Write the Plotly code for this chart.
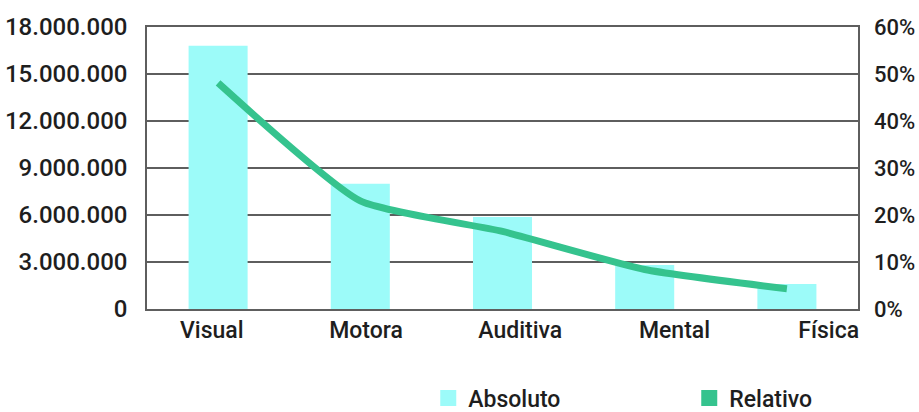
import plotly.graph_objects as go

# Tipos de deficiência
categorias = ["Visual", "Motora", "Auditiva", "Mental", "Física"]
# Número absoluto de pessoas
absoluto = [16_800_000, 8_000_000, 5_870_000, 2_810_000, 1_600_000]
# Participação relativa (%)
relativo = [48.1, 23.0, 16.5, 8.4, 4.3]

left_ticks = [0, 3_000_000, 6_000_000, 9_000_000, 12_000_000, 15_000_000, 18_000_000]
right_ticks = [0, 10, 20, 30, 40, 50, 60]
right_labels = [f"{v}%" for v in right_ticks]

COR_BARRA = "#9cfbf9"
COR_LINHA = "#35c38e"
COR_GRADE = "#5e5e5e"
COR_TEXTO = "#1e1e1e"
FONTE = "Roboto"

fig = go.Figure()

fig.add_trace(go.Bar(
    x=categorias, y=absoluto, width=0.415,
    marker=dict(color=COR_BARRA, line=dict(width=0)),
    showlegend=False, xaxis="x", yaxis="y",
))

fig.add_trace(go.Scatter(
    x=categorias, y=relativo, mode="lines",
    line=dict(color=COR_LINHA, width=7, shape="spline", smoothing=0.5),
    showlegend=False, xaxis="x", yaxis="y2",
))

# category labels on their own axis
fig.add_trace(go.Scatter(
    x=categorias, y=absoluto, mode="markers",
    marker=dict(opacity=0), hoverinfo="skip",
    showlegend=False, xaxis="x2", yaxis="y",
))

# legend entries with square swatches, one legend each
fig.add_trace(go.Scatter(
    x=[None], y=[None], mode="markers", name="Absoluto",
    marker=dict(symbol="square", size=16, color=COR_BARRA),
    xaxis="x", yaxis="y", legend="legend",
))
fig.add_trace(go.Scatter(
    x=[None], y=[None], mode="markers", name="Relativo",
    marker=dict(symbol="square", size=16, color=COR_LINHA),
    xaxis="x", yaxis="y", legend="legend2",
))

legend_common = dict(
    xref="container", yref="container", xanchor="left", yanchor="middle",
    font=dict(size=23, color=COR_TEXTO, weight=500),
    bgcolor="rgba(0,0,0,0)",
)

fig.update_layout(
    width=919, height=412,
    margin=dict(l=147, r=61, t=27, b=103, autoexpand=False),
    paper_bgcolor="white", plot_bgcolor="white",
    separators=",.",
    font=dict(family=FONTE, color=COR_TEXTO, weight=500),
    xaxis=dict(
        type="category", range=[-0.5, 4.5], automargin=False,
        showticklabels=False, showgrid=False, zeroline=False,
        showline=True, mirror=True, linecolor=COR_GRADE, linewidth=1.5,
        fixedrange=True,
    ),
    xaxis2=dict(
        type="category", overlaying="x", side="bottom", anchor="y",
        range=[-0.42, 4.19], automargin=False,
        showgrid=False, zeroline=False, showline=False,
        ticks="", tickfont=dict(size=23, color=COR_TEXTO, weight=500),
        ticklabelstandoff=5,
    ),
    yaxis=dict(
        range=[0, 18_000_000], tickvals=left_ticks, tickformat=",d",
        automargin=False,
        showgrid=True, gridcolor=COR_GRADE, gridwidth=1.5,
        zeroline=False, showline=True, mirror=True,
        linecolor=COR_GRADE, linewidth=1.5,
        ticks="", tickfont=dict(size=24, color=COR_TEXTO, weight=500),
        ticklabelstandoff=13,
    ),
    yaxis2=dict(
        range=[0, 60], tickvals=right_ticks, ticktext=right_labels,
        overlaying="y", side="right", anchor="x", automargin=False,
        showgrid=False, zeroline=False, showline=False,
        ticks="", tickfont=dict(size=22, color=COR_TEXTO, weight=500),
        ticklabelstandoff=15,
    ),
    legend=dict(x=0.466, y=0.034, **legend_common),
    legend2=dict(x=0.750, y=0.034, **legend_common),
    bargap=0.585,
)

fig.write_html("out.html")
